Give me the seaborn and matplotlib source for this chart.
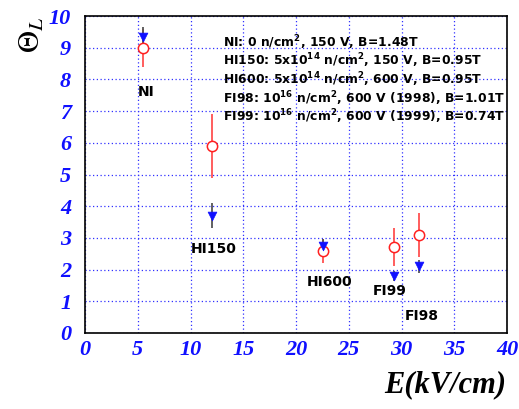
import matplotlib
matplotlib.use("Agg")
import matplotlib.pyplot as plt
import seaborn as sns
import pandas as pd
from matplotlib.ticker import MultipleLocator

# Data
labels = ["NI", "HI150", "HI600", "FI99", "FI98"]
field = [5.5, 12.0, 22.6, 29.3, 31.7]
theta_meas = [9.0, 5.9, 2.6, 2.7, 3.1]
theta_meas_err = [0.6, 1.0, 0.38, 0.6, 0.7]
theta_calc = [9.35, 3.7, 2.75, 1.8, 2.1]
theta_calc_err = [0.3, 0.4, 0.2, 0.15, 0.2]
label_x = [5.0, 10.0, 21.0, 27.3, 30.3]
label_y = [7.6, 2.65, 1.6, 1.32, 0.55]
legend_lines = [
    r"NI: 0 n/cm$^{2}$, 150 V, B=1.48T",
    r"HI150: 5x10$^{14}$ n/cm$^{2}$, 150 V, B=0.95T",
    r"HI600: 5x10$^{14}$ n/cm$^{2}$, 600 V, B=0.95T",
    r"FI98: 10$^{16}$ n/cm$^{2}$, 600 V (1998), B=1.01T",
    r"FI99: 10$^{16}$ n/cm$^{2}$, 600 V (1999), B=0.74T",
]

df = pd.DataFrame({"E": field, "meas": theta_meas, "merr": theta_meas_err,
                   "calc": theta_calc, "cerr": theta_calc_err, "label": labels})

sns.set_style("white")
plt.rcParams["mathtext.fontset"] = "custom"
plt.rcParams["mathtext.rm"] = "DejaVu Sans:bold"
plt.rcParams["mathtext.it"] = "DejaVu Sans:bold"

fig = plt.figure(figsize=(5.19, 4.09), dpi=100)
ax = fig.add_axes([85/519, 76/409, 422/519, 317/409])

ax.set_xlim(0, 40)
ax.set_ylim(0, 10)

# grid
ax.xaxis.set_major_locator(MultipleLocator(5))
ax.yaxis.set_major_locator(MultipleLocator(1))
ax.xaxis.set_minor_locator(MultipleLocator(1))
ax.yaxis.set_minor_locator(MultipleLocator(0.2))
ax.grid(True, which="major", color="#3030ff", linestyle=(0, (1, 2)), linewidth=0.9)
ax.set_axisbelow(True)

# measured
ax.errorbar(df["E"], df["meas"], yerr=df["merr"], fmt="none", ecolor="#ff5050",
            elinewidth=1.3, capsize=0, zorder=3)
sns.scatterplot(data=df, x="E", y="meas", ax=ax, marker="o", s=55,
                facecolor="white", edgecolor="#ff2020", linewidth=1.1, zorder=4)
# calculated
ax.errorbar(df["E"], df["calc"], yerr=df["cerr"], fmt="none", ecolor="#555555",
            elinewidth=1.3, capsize=0, zorder=3)
sns.scatterplot(data=df, x="E", y="calc", ax=ax, marker="v", s=40,
                color="#1010ff", edgecolor="#1010ff", linewidth=0.5, zorder=5)

for lx, ly, t in zip(label_x, label_y, labels):
    ax.text(lx, ly, t, fontsize=10, fontweight="bold", family="DejaVu Sans",
            ha="left", va="center", color="black")

for i, t in enumerate(legend_lines):
    ax.text(13.1, 9.17 - i * 0.59, t, fontsize=8.9, fontweight="bold",
            family="DejaVu Sans", ha="left", va="center", color="black")

ax.set_xlabel("")
ax.set_ylabel("")

for sp in ax.spines.values():
    sp.set_color("black")
    sp.set_linewidth(1.2)

ax.tick_params(axis="both", which="both", direction="in", colors="#1010ff",
               top=False, right=False, labelcolor="#1010ff")
ax.tick_params(axis="x", which="major", length=12, width=1, pad=5)
ax.tick_params(axis="x", which="minor", length=5, width=1)
ax.tick_params(axis="y", which="major", length=11, width=1, pad=10)
ax.tick_params(axis="y", which="minor", length=6, width=1)

for lab in ax.get_xticklabels() + ax.get_yticklabels():
    lab.set_family("Liberation Serif")
    lab.set_fontweight("bold")
    lab.set_fontstyle("italic")
    lab.set_fontsize(16)

fig.text(506/519, 1 - 385/409, "E(kV/cm)", ha="right", va="center",
         family="Liberation Serif", fontweight="bold", fontstyle="italic",
         fontsize=22, color="black")
fig.text(31/519, 1 - 35/409, r"$\Theta_L$", ha="center", va="center",
         rotation=90, fontsize=22, color="black",
         math_fontfamily="stix")

fig.savefig("out.png", dpi=100)
